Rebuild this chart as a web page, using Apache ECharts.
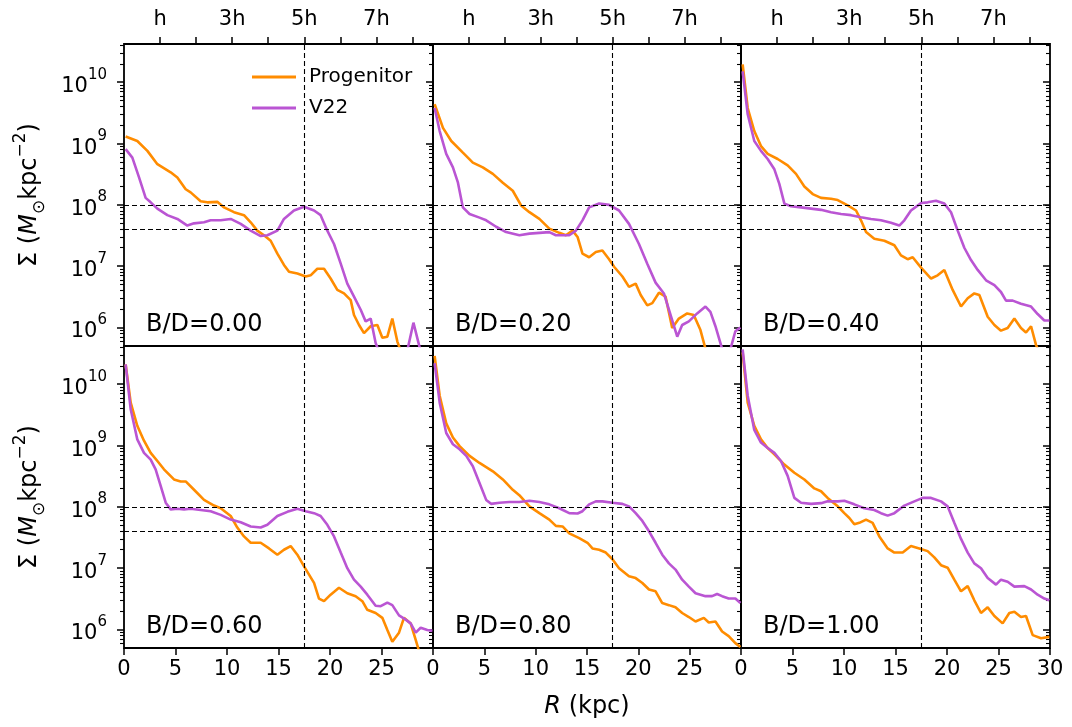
<!DOCTYPE html>
<html>
<head>
<meta charset="utf-8">
<script src="https://cdn.jsdelivr.net/npm/echarts@6/dist/echarts.min.js"></script>
<style>
html,body{margin:0;padding:0;background:#fff;}
#chart{width:1072px;height:727px;}
</style>
</head>
<body>
<div id="chart"></div>
<script>
// ---------------- DATA ----------------
const bdLabels = ['B/D=0.00','B/D=0.20','B/D=0.40','B/D=0.60','B/D=0.80','B/D=1.00'];
const seriesNames = ['Progenitor','V22'];
const xTickValues = [0,5,10,15,20,25,30];
const yMajorTicks = [1e6,1e7,1e8,1e9,1e10];
const scaleLengthH = 3.5;
const topTickLabels = ['h','3h','5h','7h'];
const topTickPos = [3.5,10.5,17.5,24.5];
const refLinesSigma = [1e8,4e7];
const refLineR = 17.5;

// B/D = 0.00
const R_prog_0 = [0.16,1.29,2.27,3.24,4.53,5.18,5.99,6.47,7.44,8.09,9.06,9.71,10.68,11.65,12.3,12.94,13.59,14.24,14.89,15.53,16.02,16.83,17.64,18.12,18.77,19.42,20.06,20.71,21.36,22.01,22.33,22.82,23.3,23.95,24.6,25.08,25.57,26.05,26.54,26.9,27.5];
const S_prog_0 = [1.3e9,1.1e9,7.6e8,4.6e8,3.4e8,2.8e8,1.8e8,1.6e8,1.15e8,1.1e8,1.12e8,9.1e7,7.6e7,6.8e7,5.2e7,3.8e7,3.2e7,2.6e7,1.6e7,1.05e7,8.1e6,7.6e6,6.8e6,7.1e6,9.1e6,9.1e6,6.3e6,4.1e6,3.6e6,2.8e6,1.6e6,1.1e6,8.1e5,1.05e6,1.1e6,6.8e5,7.1e5,1.4e6,5.9e5,4e5,3e5];
const R_v22_0 = [0.16,0.81,1.46,2.1,2.59,3.24,4.21,5.18,6.15,6.8,7.77,8.41,9.39,10.36,11.33,12.3,13.27,13.92,14.89,15.53,16.5,17.48,18.45,19.09,19.74,20.39,21.04,21.68,22.33,22.98,23.46,23.95,24.43,24.9,25.9,26.9,27.4,28.1,28.9,29.5];
const S_v22_0 = [8.1e8,5.9e8,2.8e8,1.3e8,1.1e8,8.7e7,6.8e7,5.9e7,4.6e7,5.0e7,5.2e7,5.6e7,5.6e7,5.9e7,4.9e7,3.8e7,3.1e7,3.2e7,3.8e7,5.9e7,8.1e7,9.3e7,8.1e7,6.8e7,3.8e7,2.3e7,1.1e7,5.2e6,3.2e6,1.95e6,1.26e6,1.4e6,5.6e5,3.5e5,3e5,3e5,3.5e5,1.2e6,3.5e5,3e5];

// B/D = 0.20
const R_prog_1 = [0.16,0.97,1.78,2.91,3.88,4.85,5.83,6.8,7.77,8.58,9.39,10.36,11.33,12.3,12.94,13.59,14.08,14.56,15.21,15.86,16.5,17.15,17.64,18.45,19.09,19.74,20.23,20.87,21.36,22.01,22.65,23.3,23.95,24.76,25.4,26.05,26.54,27.2];
const S_prog_1 = [4.4e9,1.8e9,1.1e9,7.1e8,4.9e8,4.1e8,3.2e8,2.3e8,1.7e8,9.8e7,7.6e7,5.9e7,4.1e7,3.5e7,3.2e7,3.8e7,3.0e7,1.6e7,1.4e7,1.7e7,1.8e7,1.3e7,9.8e6,6.8e6,4.6e6,5.2e6,3.4e6,2.3e6,2.5e6,3.7e6,3.2e6,9.8e5,1.4e6,1.7e6,1.6e6,9.1e5,4.5e5,3e5];
const R_v22_1 = [0.16,0.65,1.29,1.94,2.43,2.91,3.56,4.53,5.18,6.15,7.12,8.41,9.39,10.36,11.33,11.97,13.27,13.92,14.56,15.21,16.18,17.15,18.12,19.09,20.06,20.87,21.68,22.49,22.98,23.79,24.27,24.92,25.73,26.54,27.02,27.51,28.16,28.8,29.45,29.94];
const S_v22_1 = [3.8e9,1.6e9,6.8e8,4.1e8,2.3e8,9.1e7,7.1e7,6.2e7,5.6e7,4.4e7,3.6e7,3.2e7,3.4e7,3.5e7,3.6e7,3.2e7,3.2e7,3.8e7,5.6e7,9.1e7,1.05e8,1.0e8,8.1e7,4.9e7,2.3e7,1.1e7,5.4e6,3.6e6,1.95e6,7.1e5,1.1e6,1.26e6,1.7e6,2.2e6,1.8e6,1.05e6,4.5e5,3.5e5,8.7e5,1.0e6];

// B/D = 0.40
const R_prog_2 = [0.16,0.65,1.29,1.94,2.59,3.56,4.53,5.34,6.15,6.96,7.77,8.74,9.39,10.36,11.17,11.65,12.14,12.94,13.92,14.89,15.53,16.18,16.67,17.48,18.45,19.09,19.74,20.55,21.36,22.01,22.65,23.14,23.95,24.6,25.24,25.89,26.54,27.18,27.67,28.16,28.64,29.1];
const S_prog_2 = [1.95e10,3.8e9,1.6e9,9.1e8,6.8e8,5.6e8,4.4e8,3.2e8,2.0e8,1.5e8,1.3e8,1.26e8,1.2e8,9.8e7,8.1e7,5.6e7,3.6e7,2.8e7,2.6e7,2.2e7,1.5e7,1.3e7,1.4e7,9.5e6,6.3e6,7.1e6,8.7e6,4.1e6,2.2e6,3.0e6,3.6e6,3.4e6,1.5e6,1.1e6,8.9e5,9.8e5,1.4e6,9.8e5,8.3e5,1.05e6,5.2e5,3.5e5];
const R_v22_2 = [0.16,0.65,1.29,1.94,2.59,3.24,3.72,4.21,4.85,5.83,6.8,7.77,8.74,9.71,10.68,11.65,12.62,13.59,14.56,15.37,15.86,16.5,17.48,18.12,18.93,19.74,20.39,21.04,21.68,22.33,22.98,23.79,24.6,25.24,25.73,26.38,27.18,28.16,28.8,29.45,29.94];
const S_v22_2 = [1.5e10,3.0e9,1.1e9,7.6e8,5.6e8,3.8e8,2.2e8,1.05e8,9.5e7,9.1e7,8.7e7,8.3e7,7.6e7,7.1e7,6.8e7,6.3e7,5.9e7,5.6e7,5.1e7,4.6e7,5.6e7,8.1e7,1.07e8,1.1e8,1.17e8,1.05e8,7.6e7,3.8e7,2.0e7,1.26e7,8.7e6,5.9e6,4.9e6,3.8e6,2.75e6,2.75e6,2.45e6,2.2e6,1.66e6,1.3e6,1.3e6];

// B/D = 0.60
const R_prog_3 = [0.16,0.65,1.29,1.94,2.59,3.24,3.88,4.85,5.5,5.99,6.8,7.77,8.74,9.39,10.36,11.0,11.65,12.3,13.27,14.08,14.89,15.53,16.18,16.83,17.48,18.45,18.93,19.42,20.06,20.87,21.68,22.49,23.14,23.62,24.43,25.08,25.57,26.05,26.7,27.18,27.83,28.32,28.64,29.0];
const S_prog_3 = [2.1e10,5.0e9,2.1e9,1.2e9,7.6e8,5.6e8,4.1e8,2.8e8,2.6e8,2.6e8,1.9e8,1.3e8,1.05e8,9.5e7,7.1e7,4.6e7,3.3e7,2.6e7,2.6e7,2.1e7,1.66e7,2.0e7,2.3e7,1.66e7,1.07e7,5.75e6,3.2e6,2.9e6,3.7e6,4.8e6,3.9e6,3.5e6,2.9e6,2.1e6,1.86e6,1.55e6,9.8e5,6.3e5,8.9e5,1.55e6,1.26e6,6.8e5,4.5e5,3.5e5];
const R_v22_3 = [0.16,0.65,1.29,1.94,2.59,3.07,3.56,4.05,4.53,5.18,5.83,6.47,7.44,8.41,9.39,10.36,11.33,12.3,13.27,13.92,14.89,15.86,16.83,17.64,18.45,19.09,19.74,20.39,21.04,21.68,22.33,22.98,23.62,24.43,24.92,25.57,26.05,26.7,27.35,27.83,28.32,28.8,29.45,29.94];
const S_v22_3 = [2.1e10,3.9e9,1.26e9,7.6e8,5.9e8,4.1e8,2.2e8,1.17e8,9.1e7,9.3e7,9.1e7,9.3e7,8.9e7,8.5e7,7.4e7,6.2e7,5.6e7,4.8e7,4.6e7,5.1e7,7.1e7,8.3e7,9.3e7,8.5e7,7.9e7,7.1e7,5.1e7,3.3e7,1.8e7,1.0e7,6.5e6,5.0e6,3.7e6,2.45e6,2.4e6,2.75e6,2.5e6,1.7e6,1.45e6,1.26e6,8.9e5,1.07e6,9.8e5,9.5e5];

// B/D = 0.80
const R_prog_4 = [0.16,0.65,1.29,1.94,2.59,3.56,4.53,5.83,6.8,7.77,8.41,9.39,10.36,11.33,11.97,12.62,13.27,14.24,15.05,15.53,16.18,16.83,17.48,18.12,19.09,19.74,20.39,21.04,21.68,22.33,22.98,23.62,24.27,24.92,25.57,26.38,26.86,27.51,28.16,28.8,29.45,29.94];
const S_prog_4 = [2.9e10,6.5e9,2.3e9,1.35e9,9.8e8,6.8e8,5.2e8,3.8e8,2.8e8,1.9e8,1.55e8,1.02e8,7.9e7,6.2e7,4.9e7,4.8e7,3.7e7,3.1e7,2.6e7,2.1e7,2.0e7,1.8e7,1.4e7,1.0e7,7.4e6,6.9e6,5.75e6,4.5e6,4.2e6,2.7e6,2.5e6,2.3e6,1.86e6,1.6e6,1.35e6,1.55e6,1.3e6,1.35e6,9.3e5,7.8e5,6.0e5,5.2e5];
const R_v22_4 = [0.16,0.65,1.29,1.94,2.59,3.24,3.88,4.53,5.18,5.66,6.47,7.44,8.41,9.39,10.36,11.33,12.3,13.27,14.08,14.56,15.21,15.86,16.5,17.48,18.45,19.09,19.74,20.39,21.04,21.68,22.33,22.98,23.62,24.27,24.92,25.57,26.54,27.18,27.67,28.16,28.8,29.45,29.94];
const S_v22_4 = [2.2e10,5.0e9,1.6e9,1.05e9,8.7e8,6.8e8,4.6e8,2.45e8,1.3e8,1.12e8,1.17e8,1.2e8,1.2e8,1.26e8,1.2e8,1.1e8,9.5e7,7.9e7,7.8e7,8.5e7,1.1e8,1.23e8,1.23e8,1.17e8,1.12e8,1.02e8,7.9e7,5.9e7,4.0e7,2.6e7,1.66e7,1.2e7,9.5e6,6.5e6,5.0e6,3.9e6,3.5e6,3.5e6,3.8e6,3.5e6,3.2e6,3.2e6,2.7e6];

// B/D = 1.00
const R_prog_5 = [0.16,0.65,1.29,1.94,2.59,3.24,4.21,5.18,6.15,7.12,7.77,8.41,9.39,10.03,10.52,11.0,11.49,12.14,12.78,13.43,14.24,14.89,15.7,16.5,17.31,18.12,18.77,19.42,20.06,20.71,21.36,22.01,22.65,23.3,23.95,24.6,25.4,26.05,26.54,27.18,27.67,28.32,29.13,29.94];
const S_prog_5 = [3.3e10,5.0e9,2.1e9,1.26e9,9.1e8,7.2e8,4.9e8,3.6e8,2.8e8,2.0e8,1.8e8,1.4e8,1.02e8,7.9e7,6.6e7,5.2e7,5.5e7,6.2e7,5.5e7,3.3e7,2.1e7,1.8e7,1.8e7,2.3e7,2.1e7,1.9e7,1.5e7,1.12e7,1.02e7,6.5e6,4.2e6,5.1e6,3.0e6,1.86e6,2.3e6,1.66e6,1.26e6,1.86e6,1.95e6,1.6e6,1.66e6,8.1e5,7.2e5,7.6e5];
const R_v22_5 = [0.16,0.65,1.29,1.94,2.59,3.24,3.88,4.53,5.18,5.83,6.8,7.77,8.41,9.39,10.03,11.0,11.97,12.94,13.59,14.24,14.89,15.86,16.83,17.64,18.45,19.42,20.06,20.71,21.36,22.01,22.65,23.3,23.95,24.76,25.24,25.89,26.54,27.51,28.16,28.8,29.45,29.94];
const S_v22_5 = [3.7e10,6.5e9,1.8e9,1.12e9,9.1e8,7.6e8,5.6e8,3.2e8,1.4e8,1.17e8,1.12e8,1.15e8,1.23e8,1.23e8,1.26e8,1.1e8,9.5e7,8.9e7,7.9e7,7.2e7,7.9e7,1.05e8,1.23e8,1.4e8,1.4e8,1.23e8,1.02e8,5.5e7,3.0e7,1.8e7,1.2e7,1.0e7,6.9e6,5.4e6,6.5e6,6.0e6,5.0e6,5.1e6,4.5e6,3.7e6,3.2e6,3.0e6];

const progR = [R_prog_0,R_prog_1,R_prog_2,R_prog_3,R_prog_4,R_prog_5];
const progS = [S_prog_0,S_prog_1,S_prog_2,S_prog_3,S_prog_4,S_prog_5];
const v22R = [R_v22_0,R_v22_1,R_v22_2,R_v22_3,R_v22_4,R_v22_5];
const v22S = [S_v22_0,S_v22_1,S_v22_2,S_v22_3,S_v22_4,S_v22_5];

// ---------------- LAYOUT / STYLE ----------------
const FONT = 'DejaVu Sans';
const ORANGE = '#ff8c00';
const PURPLE = '#ba55d3';
const LW = 2.6;
const colLeft = [124, 433, 741];
const colWidth = [309, 308, 309];
const rowTop = [44, 346];
const rowHeight = [302, 302];
const yMin = 5.0e5, yMax = 4.2e10;
const yMinorTicks = [];
for (let e = 5; e <= 10; e++) for (let k = 2; k <= 9; k++) {
  const v = k * Math.pow(10, e);
  if (v > yMin && v < yMax) yMinorTicks.push(v);
}
const topMinorTicks = [];
for (let k = 1; k * scaleLengthH < 30; k++) topMinorTicks.push(+(k * scaleLengthH).toFixed(2));

const zip = (a, b) => a.map((v, i) => [v, b[i]]);

const grids = [], xAxes = [], yAxes = [], series = [], graphics = [];
const tickLine = {color: '#000', width: 1.5};

for (let i = 0; i < 6; i++) {
  const r = Math.floor(i / 3), c = i % 3;
  grids.push({
    left: colLeft[c], top: rowTop[r], width: colWidth[c], height: rowHeight[r],
    show: true, borderColor: '#000', borderWidth: 1.8, backgroundColor: 'transparent'
  });
  const xIdx = xAxes.length;
  xAxes.push({
    type: 'value', gridIndex: i, min: 0, max: 30, position: 'bottom',
    axisLine: {show: false}, splitLine: {show: false},
    axisTick: {show: r === 1, customValues: xTickValues, length: 7, inside: false, lineStyle: tickLine},
    axisLabel: {show: r === 1, customValues: c < 2 ? xTickValues.slice(0, 6) : xTickValues,
      fontSize: 21, fontFamily: FONT, color: '#000', margin: 11},
    name: i === 4 ? '{i|R} (kpc)' : '',
    nameLocation: 'middle', nameGap: 47,
    nameTextStyle: {fontSize: 24, fontFamily: FONT, color: '#000',
      rich: {i: {fontStyle: 'italic', fontSize: 24, fontFamily: FONT, color: '#000'}}}
  });
  if (r === 0) {
    xAxes.push({
      type: 'value', gridIndex: i, min: 0, max: 30, position: 'top',
      axisLine: {show: false}, splitLine: {show: false},
      axisTick: {show: true, customValues: topMinorTicks, length: 7, inside: false, lineStyle: tickLine},
      axisLabel: {show: true, customValues: topTickPos, fontSize: 21, fontFamily: FONT, color: '#000', margin: 14,
        formatter: v => topTickLabels[topTickPos.indexOf(v)] || ''}
    });
  }
  const yIdx = yAxes.length;
  yAxes.push({
    type: 'log', logBase: 10, gridIndex: i, min: yMin, max: yMax, position: 'left',
    axisLine: {show: false}, splitLine: {show: false}, minorTick: {show: false},
    axisTick: {show: true, customValues: yMajorTicks, length: 7, inside: false, lineStyle: tickLine},
    axisLabel: {show: c === 0, customValues: yMajorTicks, margin: 17,
      formatter: v => '{b|10}{s|' + Math.round(Math.log10(v)) + '}',
      rich: {
        b: {fontSize: 21, fontFamily: FONT, color: '#000', lineHeight: 30, verticalAlign: 'bottom'},
        s: {fontSize: 15, fontFamily: FONT, color: '#000', lineHeight: 30, verticalAlign: 'top'}
      }},
    name: c === 0 ? '{n|Σ (}{i|M}{sub|⊙}{n|kpc}{sup|−2}{n|)}' : '',
    nameLocation: 'middle', nameGap: 76, nameRotate: 90,
    nameTextStyle: {fontFamily: FONT, color: '#000',
      rich: {
        n: {fontSize: 24, fontFamily: FONT, color: '#000', lineHeight: 36, verticalAlign: 'middle'},
        i: {fontSize: 24, fontFamily: FONT, fontStyle: 'italic', color: '#000', lineHeight: 36, verticalAlign: 'middle'},
        sub: {fontSize: 17, fontFamily: FONT, color: '#000', lineHeight: 36, verticalAlign: 'bottom'},
        sup: {fontSize: 17, fontFamily: FONT, color: '#000', lineHeight: 36, verticalAlign: 'top'}
      }}
  });
  yAxes.push({
    type: 'log', logBase: 10, gridIndex: i, min: yMin, max: yMax, position: 'left',
    axisLine: {show: false}, splitLine: {show: false}, axisLabel: {show: false},
    axisTick: {show: true, customValues: yMinorTicks, length: 4, inside: false, lineStyle: {color: '#000', width: 1.1}}
  });
  if (c === 2) {
    yAxes.push({
      type: 'log', logBase: 10, gridIndex: i, min: yMin, max: yMax, position: 'right',
      axisLine: {show: false}, splitLine: {show: false}, axisLabel: {show: false},
      axisTick: {show: true, customValues: yMajorTicks, length: 7, inside: true, lineStyle: tickLine}
    });
    yAxes.push({
      type: 'log', logBase: 10, gridIndex: i, min: yMin, max: yMax, position: 'right',
      axisLine: {show: false}, splitLine: {show: false}, axisLabel: {show: false},
      axisTick: {show: true, customValues: yMinorTicks, length: 4, inside: true, lineStyle: {color: '#000', width: 1.1}}
    });
  }
  series.push({
    name: seriesNames[0], type: 'line', xAxisIndex: xIdx, yAxisIndex: yIdx,
    data: zip(progR[i], progS[i]), symbol: 'none', showSymbol: false, clip: true,
    lineStyle: {color: ORANGE, width: LW}, itemStyle: {color: ORANGE}, z: 3,
    markLine: {
      silent: true, symbol: ['none', 'none'], label: {show: false}, animation: false,
      lineStyle: {color: '#000', type: [5, 3], width: 1.1},
      data: [{yAxis: refLinesSigma[0]}, {yAxis: refLinesSigma[1]}, {xAxis: refLineR}]
    }
  });
  series.push({
    name: seriesNames[1], type: 'line', xAxisIndex: xIdx, yAxisIndex: yIdx,
    data: zip(v22R[i], v22S[i]), symbol: 'none', showSymbol: false, clip: true,
    lineStyle: {color: PURPLE, width: LW}, itemStyle: {color: PURPLE}, z: 4
  });
  graphics.push({
    type: 'text', left: colLeft[c] + 22, top: rowTop[r] + rowHeight[r] - 33,
    style: {text: bdLabels[i], fontSize: 24, fontFamily: FONT, fill: '#000'}, z: 10
  });
}

const chart = echarts.init(document.getElementById('chart'), null, {renderer: 'canvas'});
chart.setOption({
  animation: false,
  backgroundColor: '#fff',
  grid: grids,
  xAxis: xAxes,
  yAxis: yAxes,
  series: series,
  graphic: graphics,
  legend: {
    data: seriesNames.map(n => ({name: n, icon: 'rect'})),
    orient: 'vertical', left: 247, top: 61,
    itemWidth: 44, itemHeight: 3, itemGap: 9,
    textStyle: {fontSize: 20, fontFamily: FONT, color: '#000', padding: [0, 0, 0, 8], lineHeight: 22}
  }
});
</script>
</body>
</html>
